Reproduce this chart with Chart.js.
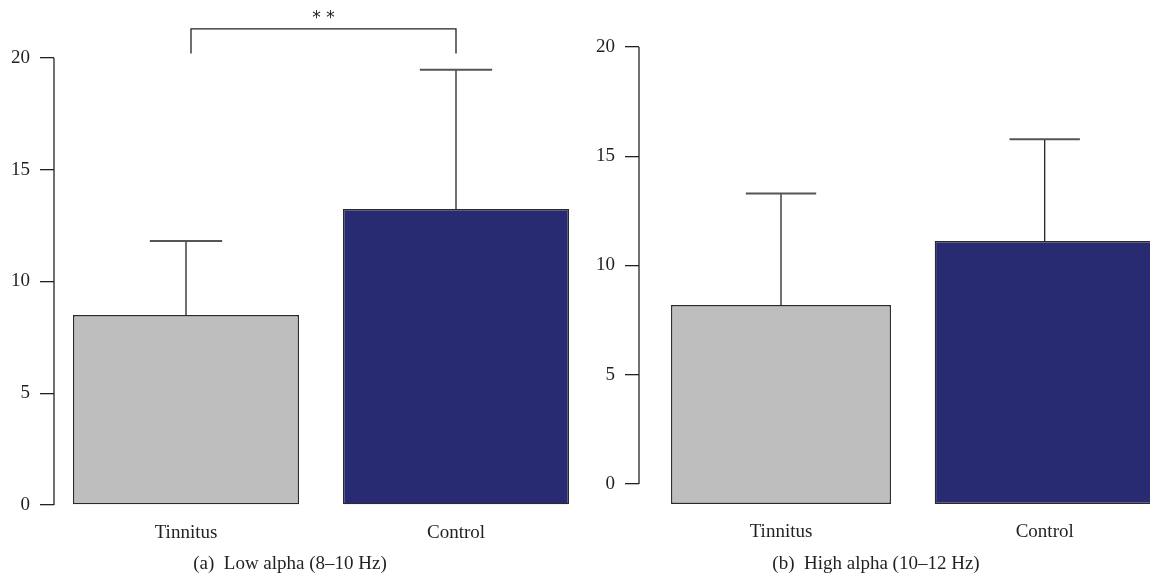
<!DOCTYPE html>
<html>
<head>
<meta charset="utf-8">
<script src="https://cdn.jsdelivr.net/npm/chart.js@4"></script>
<style>
  body { margin: 0; background: #fff; width: 1150px; height: 582px; position: relative; overflow: hidden; }
  canvas { position: absolute; top: 0; }
  .caption { position: absolute; top: 552px; font-family: "Liberation Serif", serif; font-size: 19px; color: #231f20; white-space: pre; transform: translateX(-50%); }
</style>
</head>
<body>
<canvas id="lowChart" width="585" height="582" style="left:0"></canvas>
<canvas id="highChart" width="565" height="582" style="left:585px"></canvas>
<div class="caption" style="left:290px">(a)  Low alpha (8–10 Hz)</div>
<div class="caption" style="left:876px">(b)  High alpha (10–12 Hz)</div>
<script>
// groups and values
var categories = ['Tinnitus', 'Control'];
var lowAlpha = [8.5, 13.24];
var lowAlphaErr = [3.31, 6.23];
var highAlpha = [8.19, 11.12];
var highAlphaErr = [5.1, 4.66];
var yTicks = [0, 5, 10, 15, 20];
var barColors = ['#bebebe', '#282a72'];

var font = { family: '"Liberation Serif", serif', size: 19 };

// upper error bar: stem + cap
const errorBars = {
    id: 'errorBars',
    afterDatasetsDraw(chart, args, opts) {
        const ctx = chart.ctx;
        const y = chart.scales.y;
        const ds = chart.data.datasets[0];
        chart.getDatasetMeta(0).data.forEach((bar, i) => {
            const top = y.getPixelForValue(ds.data[i].y + opts.err[i]);
            ctx.save();
            ctx.strokeStyle = '#111';
            ctx.lineWidth = 1.2;
            ctx.beginPath();
            ctx.moveTo(bar.x, bar.y);
            ctx.lineTo(bar.x, top);
            ctx.stroke();
            ctx.strokeStyle = '#555';
            ctx.lineWidth = 2;
            const hw = bar.width * 0.16;
            ctx.beginPath();
            ctx.moveTo(bar.x - hw, top);
            ctx.lineTo(bar.x + hw, top);
            ctx.stroke();
            ctx.restore();
        });
    }
};

// y axis line only between first and last tick
const axisLine = {
    id: 'axisLine',
    afterDraw(chart) {
        const ctx = chart.ctx;
        const y = chart.scales.y;
        const x0 = chart.chartArea.left;
        ctx.save();
        ctx.strokeStyle = '#222';
        ctx.lineWidth = 1.3;
        ctx.beginPath();
        ctx.moveTo(x0, y.getPixelForValue(yTicks[yTicks.length - 1]));
        ctx.lineTo(x0, y.getPixelForValue(yTicks[0]));
        ctx.stroke();
        ctx.restore();
    }
};

// significance bracket
const bracket = {
    id: 'bracket',
    afterDraw(chart, args, opts) {
        if (!opts.label) return;
        const ctx = chart.ctx;
        const x = chart.scales.x;
        const y = chart.scales.y;
        const x1 = x.getPixelForValue(opts.from + 1) + 5;
        const x2 = x.getPixelForValue(opts.to + 1);
        const yTop = y.getPixelForValue(opts.top);
        const yEnd = y.getPixelForValue(opts.end);
        ctx.save();
        ctx.strokeStyle = '#222';
        ctx.lineWidth = 1.3;
        ctx.beginPath();
        ctx.moveTo(x1, yEnd);
        ctx.lineTo(x1, yTop);
        ctx.lineTo(x2, yTop);
        ctx.lineTo(x2, yEnd);
        ctx.stroke();
        ctx.fillStyle = '#222';
        ctx.font = '17px "DejaVu Sans", sans-serif';
        ctx.textAlign = 'center';
        ctx.textBaseline = 'middle';
        ctx.fillText(opts.label, (x1 + x2) / 2, yTop - 10);
        ctx.restore();
    }
};

function makeChart(id, values, errs, cfg) {
    return new Chart(document.getElementById(id), {
        type: 'bar',
        data: {
            datasets: [{
                data: values.map((v, i) => ({ x: i + 1, y: v })),
                backgroundColor: barColors,
                borderColor: '#2a2a2a',
                borderWidth: 1.4,
                borderSkipped: false,
                base: cfg.yMin,
                categoryPercentage: 1,
                barPercentage: cfg.barPct
            }]
        },
        options: {
            responsive: false,
            animation: false,
            devicePixelRatio: 1,
            layout: { padding: { top: cfg.top, right: 0, bottom: 0, left: 0 } },
            plugins: {
                legend: { display: false },
                tooltip: { enabled: false },
                errorBars: { err: errs },
                bracket: cfg.bracket || {}
            },
            scales: {
                x: {
                    type: 'linear',
                    offset: false,
                    bounds: 'data',
                    min: cfg.xMin,
                    max: cfg.xMax,
                    afterBuildTicks: (s) => { s.ticks = categories.map((c, i) => ({ value: i + 1 })); },
                    afterFit: (s) => { s.height = cfg.xHeight; s.paddingLeft = 0; s.paddingRight = 0; },
                    ticks: {
                        font: font,
                        color: '#231f20',
                        padding: 9,
                        maxRotation: 0,
                        callback: (v) => categories[v - 1]
                    },
                    grid: { display: false, offset: false },
                    border: { display: false }
                },
                y: {
                    min: cfg.yMin,
                    max: 20,
                    afterBuildTicks: (s) => { s.ticks = yTicks.map(v => ({ value: v })); },
                    afterFit: (s) => { s.width = 54; },
                    ticks: { font: font, color: '#231f20', padding: 10 },
                    grid: { drawOnChartArea: false, tickLength: 14, color: '#222', lineWidth: 1.3 },
                    border: { display: false }
                }
            }
        },
        plugins: [errorBars, axisLine, bracket]
    });
}

makeChart('lowChart', lowAlpha, lowAlphaErr, {
    top: 58, xHeight: 77, yMin: 0,
    xMin: 0.5111, xMax: 2.4778, barPct: 0.837,
    bracket: { from: 0, to: 1, top: 21.3, end: 20.2, label: '* *' }
});

makeChart('highChart', highAlpha, highAlphaErr, {
    top: 47, xHeight: 78, yMin: -0.915,
    xMin: 0.4615, xMax: 2.3993, barPct: 0.834
});
</script>
</body>
</html>
